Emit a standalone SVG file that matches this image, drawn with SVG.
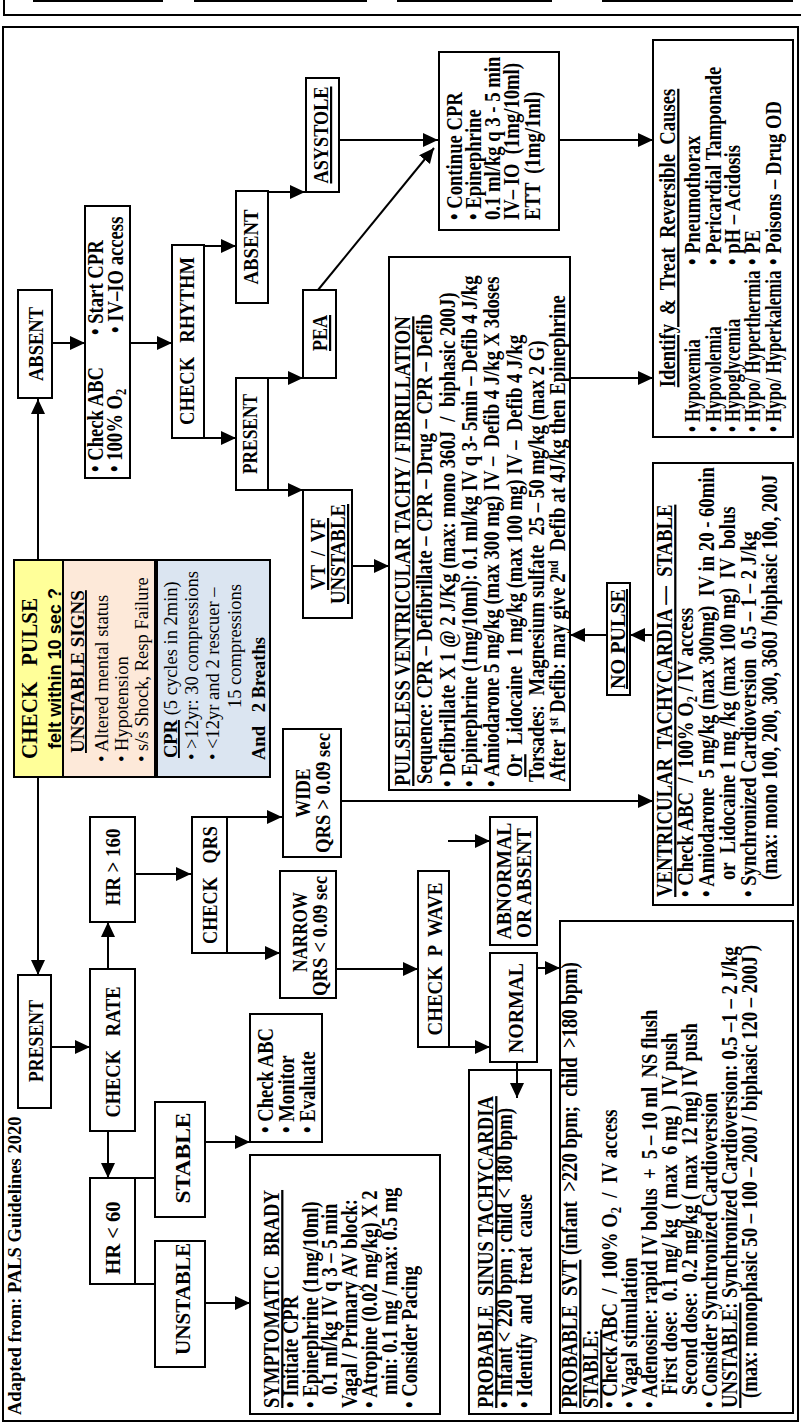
<svg xmlns="http://www.w3.org/2000/svg" width="801" height="1424" viewBox="0 0 801 1424">
<style>
.bx{fill:#fff;stroke:#000;stroke-width:2}
.t{font-family:"Liberation Serif","Times New Roman",serif;font-weight:bold;font-size:22.5px;fill:#000;white-space:pre}
.lb{font-size:22px}
.m{text-anchor:middle}
.r{font-weight:normal;font-size:18.5px}
.u{text-decoration:underline}
.sb{font-size:15px}
.sp{font-size:14px}
.c{fill:none;stroke:#000;stroke-width:2}
.a{marker-end:url(#ah)}
</style>
<defs>
<marker id="ah" markerUnits="userSpaceOnUse" markerWidth="16" markerHeight="15" refX="15" refY="7" orient="auto"><path d="M0,0 L15,7 L0,14 Z" fill="#000"/></marker>
</defs>
<rect width="801" height="1424" fill="#fff"/>
<g id="frame" class="c">
<polyline points="4,0 4,15 801,15"/>
<path d="M33,1 H163 M194,1 H367 M397,1 H552 M602,1 H793"/>
<rect x="3" y="27" width="795" height="1394"/>
</g>
<g id="adapted"><text class="t" style="font-size:18.5px" transform="translate(21 1415) rotate(-90)">Adapted from: PALS Guidelines 2020</text></g>

<g id="n-absent"><rect class="bx" x="18" y="290" width="34" height="108"/><text class="t lb m" transform="translate(43 344) rotate(-90)" textLength="74" lengthAdjust="spacingAndGlyphs">ABSENT</text></g>
<g id="n-present"><rect class="bx" x="18" y="975" width="33" height="133"/><text class="t lb m" transform="translate(43 1041) rotate(-90)" textLength="82" lengthAdjust="spacingAndGlyphs">PRESENT</text></g>

<g id="n-checkpulse"><rect x="14" y="560" width="49" height="217" fill="#FFFF99" stroke="#000" stroke-width="2"/>
<text class="t" style="font-size:23px" transform="translate(37 759) rotate(-90)" textLength="161" lengthAdjust="spacingAndGlyphs">CHECK   PULSE</text>
<text style="font-family:'Liberation Sans',Arial,sans-serif;font-weight:bold;font-size:18px" transform="translate(61 749) rotate(-90)" textLength="161" lengthAdjust="spacingAndGlyphs">felt within 10 sec ?</text></g>

<g id="n-unstable-signs"><rect x="63" y="560" width="92" height="217" fill="#FDE9D9" stroke="#000" stroke-width="2"/>
<text class="t u" style="font-size:19px" transform="translate(84 753) rotate(-90)">UNSTABLE SIGNS</text>
<text class="t r" transform="translate(108 762) rotate(-90)">• Altered mental status</text>
<text class="t r" transform="translate(128 762) rotate(-90)">• Hypotension</text>
<text class="t r" transform="translate(148 762) rotate(-90)">• s/s Shock, Resp Failure</text></g>

<g id="n-cpr"><rect x="157" y="560" width="113" height="217" fill="#DBE5F1" stroke="#000" stroke-width="2"/>
<text class="t r" transform="translate(177 758) rotate(-90)"><tspan class="u" style="font-weight:bold">CPR</tspan> (5 cycles in 2min)</text>
<text class="t r" transform="translate(198 760) rotate(-90)">• &gt;12yr: 30 compressions</text>
<text class="t r" transform="translate(219 760) rotate(-90)">• &lt;12yr and 2 rescuer –</text>
<text class="t r" transform="translate(241 708) rotate(-90)">15 compressions</text>
<text class="t" style="font-size:18.5px" transform="translate(265 760) rotate(-90)">And   2 Breaths</text></g>

<g id="n-checkabc"><rect class="bx" x="85" y="206" width="45" height="272"/>
<text class="t" transform="translate(103 472) rotate(-90) scale(.83 1)">• Check ABC</text>
<text class="t" transform="translate(122 472) rotate(-90) scale(.83 1)">• 100% O<tspan class="sb" dy="4">2</tspan></text>
<text class="t" transform="translate(103 335) rotate(-90) scale(.83 1)">• Start CPR</text>
<text class="t" transform="translate(123 333) rotate(-90) scale(.83 1)">• IV–IO access</text></g>

<g id="n-checkrhythm"><rect class="bx" x="172" y="245" width="32" height="193"/><text class="t lb m" transform="translate(194 341) rotate(-90)" textLength="168" lengthAdjust="spacingAndGlyphs">CHECK   RHYTHM</text></g>
<g id="n-absent2"><rect class="bx" x="236" y="191" width="32" height="112"/><text class="t lb m" transform="translate(258 247) rotate(-90)" textLength="75" lengthAdjust="spacingAndGlyphs">ABSENT</text></g>
<g id="n-present2"><rect class="bx" x="236" y="378" width="32" height="112"/><text class="t lb m" transform="translate(257 434) rotate(-90)" textLength="80" lengthAdjust="spacingAndGlyphs">PRESENT</text></g>
<g id="n-asystole"><rect class="bx" x="306" y="78" width="33" height="114"/><text class="t lb m u" transform="translate(328 135) rotate(-90)" textLength="97" lengthAdjust="spacingAndGlyphs">ASYSTOLE</text></g>
<g id="n-pea"><rect class="bx" x="303" y="290" width="33" height="88"/><text class="t lb m u" transform="translate(327 333) rotate(-90)" textLength="36" lengthAdjust="spacingAndGlyphs">PEA</text></g>
<g id="n-vtvf"><rect class="bx" x="303" y="490" width="49" height="128"/>
<text class="t lb m u" transform="translate(325 554) rotate(-90)" textLength="72" lengthAdjust="spacingAndGlyphs">VT  /  VF</text>
<text class="t lb m u" transform="translate(345 554) rotate(-90)" textLength="100" lengthAdjust="spacingAndGlyphs">UNSTABLE</text></g>

<g id="n-continue"><rect class="bx" x="439" y="52" width="120" height="178"/>
<text class="t" transform="translate(462 220) rotate(-90) scale(.83 1)">• Continue CPR</text>
<text class="t" transform="translate(481 220) rotate(-90) scale(.83 1)">• Epinephrine</text>
<text class="t" transform="translate(500 220) rotate(-90) scale(.83 1)">0.1 ml/kg q 3 - 5 min</text>
<text class="t" transform="translate(519 220) rotate(-90) scale(.83 1)">IV– IO  (1mg/10ml)</text>
<text class="t" transform="translate(540 220) rotate(-90) scale(.83 1)">ETT  (1mg/1ml)</text></g>

<g id="n-pulseless"><rect class="bx" x="389" y="257" width="181" height="533"/>
<text class="t u" transform="translate(410 786) rotate(-90) scale(.83 1)">PULSELESS VENTRICULAR TACHY / FIBRILLATION</text>
<text class="t" transform="translate(432 784) rotate(-90) scale(.83 1)">Sequence: CPR – Defibrillate – CPR – Drug – CPR – Defib</text>
<text class="t" transform="translate(455 787) rotate(-90) scale(.83 1)">• Defibrillate X 1 @ 2 J/Kg (max: mono 360J  /  biphasic 200J)</text>
<text class="t" transform="translate(477 787) rotate(-90) scale(.83 1)">• Epinephrine (1mg/10ml): 0.1 ml/kg IV q 3- 5min – Defib 4 J/kg</text>
<text class="t" transform="translate(499 787) rotate(-90) scale(.83 1)">• Amiodarone 5 mg/kg (max 300 mg) IV –  Defib 4 J/kg X 3doses</text>
<text class="t" transform="translate(522 777) rotate(-90) scale(.83 1)"><tspan class="u">Or</tspan>  Lidocaine  1 mg/kg (max 100 mg) IV –  Defib 4 J/kg</text>
<text class="t" transform="translate(544 782) rotate(-90) scale(.83 1)">Torsades:  Magnesium sulfate  25 – 50 mg/kg (max 2 G)</text>
<text class="t" transform="translate(565 782) rotate(-90) scale(.83 1)">After 1<tspan class="sp" dy="-7">st</tspan><tspan dy="7"> Defib: may give 2</tspan><tspan class="sp" dy="-7">nd</tspan><tspan dy="7">  Defib at 4J/kg then Epinephrine</tspan></text></g>

<g id="n-identify"><rect class="bx" x="653" y="40" width="140" height="397"/>
<text class="t m u" transform="translate(675 238) rotate(-90) scale(.83 1)">Identify  &amp;  Treat  Reversible  Causes</text>
<text class="t" transform="translate(700 432) rotate(-90) scale(.75 1)">• Hypoxemia</text>
<text class="t" transform="translate(721 432) rotate(-90) scale(.75 1)">• Hypovolemia</text>
<text class="t" transform="translate(740 432) rotate(-90) scale(.75 1)">• Hypoglycemia</text>
<text class="t" transform="translate(760 432) rotate(-90) scale(.75 1)">• Hypo/ Hyperthermia</text>
<text class="t" transform="translate(781 432) rotate(-90) scale(.75 1)">• Hypo/ Hyperkalemia</text>
<text class="t" transform="translate(700 265) rotate(-90) scale(.83 1)">• Pneumothorax</text>
<text class="t" transform="translate(721 265) rotate(-90) scale(.83 1)">• Pericardial Tamponade</text>
<text class="t" transform="translate(740 265) rotate(-90) scale(.83 1)">• pH – Acidosis</text>
<text class="t" transform="translate(760 265) rotate(-90) scale(.83 1)">• PE</text>
<text class="t" transform="translate(781 265) rotate(-90) scale(.83 1)">• Poisons – Drug OD</text></g>

<g id="n-nopulse"><rect class="bx" x="607" y="583" width="23" height="112"/><text class="t m u" style="font-size:20px" transform="translate(625 639) rotate(-90)" textLength="100" lengthAdjust="spacingAndGlyphs">NO PULSE</text></g>

<g id="n-vtstable"><rect class="bx" x="653" y="463" width="140" height="442"/>
<text class="t u" transform="translate(672 897) rotate(-90) scale(.83 1)">VENTRICULAR  TACHYCARDIA —  STABLE</text>
<text class="t" transform="translate(693 897) rotate(-90) scale(.83 1)">• Check ABC  /  100% O<tspan class="sb" dy="4">2</tspan><tspan dy="-4"> / IV access</tspan></text>
<text class="t" transform="translate(714 897) rotate(-90) scale(.83 1)">• Amiodarone  5 mg/kg (max 300mg)  IV in 20 - 60min</text>
<text class="t" transform="translate(735 880) rotate(-90) scale(.83 1)">or  Lidocaine 1 mg /kg (max 100 mg)  IV  bolus</text>
<text class="t" transform="translate(756 897) rotate(-90) scale(.83 1)">• Synchronized Cardioversion  0.5 – 1 – 2 J/kg</text>
<text class="t" transform="translate(777 880) rotate(-90) scale(.83 1)">(max: mono 100, 200, 300, 360J /biphasic 100, 200J</text></g>

<g id="n-checkrate"><rect class="bx" x="90" y="969" width="45" height="162"/><text class="t lb m" transform="translate(120 1052) rotate(-90)" textLength="131" lengthAdjust="spacingAndGlyphs">CHECK   RATE</text></g>
<g id="n-hr160"><rect class="bx" x="90" y="817" width="45" height="105"/><text class="t lb m" transform="translate(120 867) rotate(-90)" textLength="77" lengthAdjust="spacingAndGlyphs">HR &gt; 160</text></g>
<g id="n-checkqrs"><rect class="bx" x="192" y="817" width="35" height="136"/><text class="t lb m" transform="translate(217 885) rotate(-90)" textLength="118" lengthAdjust="spacingAndGlyphs">CHECK   QRS</text></g>
<g id="n-wide"><rect class="bx" x="283" y="729" width="58" height="128"/>
<text class="t lb m" transform="translate(310 793) rotate(-90)" textLength="49" lengthAdjust="spacingAndGlyphs">WIDE</text>
<text class="t lb m" transform="translate(330 793) rotate(-90)" textLength="120" lengthAdjust="spacingAndGlyphs">QRS &gt; 0.09 sec</text></g>
<g id="n-narrow"><rect class="bx" x="280" y="871" width="56" height="127"/>
<text class="t lb m" transform="translate(307 932) rotate(-90)" textLength="80" lengthAdjust="spacingAndGlyphs">NARROW</text>
<text class="t lb m" transform="translate(327 936) rotate(-90)" textLength="120" lengthAdjust="spacingAndGlyphs">QRS &lt; 0.09 sec</text></g>
<g id="n-pwave"><rect class="bx" x="418" y="871" width="31" height="176"/><text class="t lb m" transform="translate(442 959) rotate(-90)" textLength="153" lengthAdjust="spacingAndGlyphs">CHECK  P  WAVE</text></g>
<g id="n-abnormal"><rect class="bx" x="490" y="817" width="47" height="128"/>
<text class="t lb m" transform="translate(511 881) rotate(-90)" textLength="117" lengthAdjust="spacingAndGlyphs">ABNORMAL</text>
<text class="t lb m" transform="translate(531 883) rotate(-90)" textLength="110" lengthAdjust="spacingAndGlyphs">OR ABSENT</text></g>
<g id="n-normal"><rect class="bx" x="490" y="953" width="47" height="109"/><text class="t lb m" transform="translate(523 1008) rotate(-90)" textLength="90" lengthAdjust="spacingAndGlyphs">NORMAL</text></g>
<g id="n-hr60"><rect class="bx" x="90" y="1178" width="45" height="106"/><text class="t lb m" transform="translate(120 1238) rotate(-90)" textLength="73" lengthAdjust="spacingAndGlyphs">HR &lt; 60</text></g>
<g id="n-stable"><rect class="bx" x="155" y="1102" width="50" height="115"/><text class="t lb m" transform="translate(190 1158) rotate(-90)" textLength="91" lengthAdjust="spacingAndGlyphs">STABLE</text></g>
<g id="n-unstable"><rect class="bx" x="155" y="1241" width="50" height="126"/><text class="t lb m" transform="translate(190 1299) rotate(-90)" textLength="112" lengthAdjust="spacingAndGlyphs">UNSTABLE</text></g>
<g id="n-monitor"><rect class="bx" x="250" y="1014" width="72" height="128"/>
<text class="t" transform="translate(273 1133) rotate(-90) scale(.83 1)">• Check ABC</text>
<text class="t" transform="translate(294 1133) rotate(-90) scale(.83 1)">• Monitor</text>
<text class="t" transform="translate(315 1133) rotate(-90) scale(.83 1)">• Evaluate</text></g>

<g id="n-brady"><rect class="bx" x="250" y="1155" width="190" height="259"/>
<text class="t u" transform="translate(279 1408) rotate(-90) scale(.83 1)">SYMPTOMATIC  BRADY</text>
<text class="t" transform="translate(298 1408) rotate(-90) scale(.83 1)">• Initiate CPR</text>
<text class="t" transform="translate(318 1408) rotate(-90) scale(.83 1)">• Epinephrine (1mg/10ml)</text>
<text class="t" transform="translate(337 1395) rotate(-90) scale(.83 1)">0.1 ml/kg IV q 3 – 5 min</text>
<text class="t" transform="translate(357 1408) rotate(-90) scale(.83 1)">Vagal / Primary AV block:</text>
<text class="t" transform="translate(377 1408) rotate(-90) scale(.83 1)">• Atropine (0.02 mg/kg) X 2</text>
<text class="t" transform="translate(397 1395) rotate(-90) scale(.83 1)">min: 0.1 mg / max: 0.5 mg</text>
<text class="t" transform="translate(417 1408) rotate(-90) scale(.83 1)">• Consider Pacing</text></g>

<g id="n-sinus"><rect class="bx" x="469" y="1070" width="82" height="344"/>
<text class="t u" transform="translate(493 1408) rotate(-90) scale(.83 1)">PROBABLE  SINUS TACHYCARDIA</text>
<text class="t" transform="translate(512 1408) rotate(-90) scale(.83 1)">• Infant &lt; 220 bpm ; child &lt; 180 bpm)</text>
<text class="t" transform="translate(532 1408) rotate(-90) scale(.83 1)">• Identify  and  treat  cause</text></g>

<g id="n-svt"><rect class="bx" x="560" y="921" width="233" height="492"/>
<text class="t" transform="translate(577 1408) rotate(-90) scale(.83 1)"><tspan class="u">PROBABLE  SVT</tspan> (infant  &gt;220 bpm;  child  &gt;180 bpm)</text>
<text class="t u" transform="translate(598 1408) rotate(-90) scale(.83 1)">STABLE:</text>
<text class="t" transform="translate(617 1408) rotate(-90) scale(.83 1)">• Check ABC  /  100% O<tspan class="sb" dy="4">2</tspan><tspan dy="-4">  /  IV access</tspan></text>
<text class="t" transform="translate(637 1408) rotate(-90) scale(.83 1)">• Vagal stimulation</text>
<text class="t" transform="translate(657 1408) rotate(-90) scale(.83 1)">• Adenosine: rapid IV bolus  +  5 – 10 ml  NS flush</text>
<text class="t" transform="translate(677 1395) rotate(-90) scale(.83 1)">First dose:  0.1 mg/ kg  ( max  6 mg )  IV push</text>
<text class="t" transform="translate(697 1395) rotate(-90) scale(.83 1)">Second dose:  0.2 mg/kg ( max  12 mg) IV push</text>
<text class="t" transform="translate(717 1408) rotate(-90) scale(.83 1)">• Consider Synchronized Cardioversion</text>
<text class="t" transform="translate(737 1408) rotate(-90) scale(.83 1)"><tspan class="u">UNSTABLE:</tspan> Synchronized Cardioversion: 0.5 –1 – 2 J/kg</text>
<text class="t" transform="translate(757 1398) rotate(-90) scale(.83 1)">(max: monophasic 50 – 100 – 200J / biphasic 120 – 200J )</text></g>

<g id="connectors" class="c">
<path class="a" d="M38,560 V399"/>
<path class="a" d="M38,777 V975"/>
<path class="a" d="M52,343 H85"/>
<path class="a" d="M130,343 H172"/>
<path class="a" d="M204,246 H236"/>
<path class="a" d="M204,438 H236"/>
<path class="a" d="M268,192 H305"/>
<path class="a" d="M339,140 H438"/>
<path class="a" d="M318,290 L434,148"/>
<path class="a" d="M268,378 H303"/>
<path class="a" d="M268,490 H303"/>
<path class="a" d="M352,566 H389"/>
<path class="a" d="M559,140 H653"/>
<path class="a" d="M570,378 H653"/>
<path class="a" d="M653,635 H630"/>
<path class="a" d="M607,635 H570"/>
<path class="a" d="M51,1047 H90"/>
<path class="a" d="M108,969 V922"/>
<path class="a" d="M108,1131 V1178"/>
<path class="a" d="M135,874 H191"/>
<path class="a" d="M227,817 H282"/>
<path class="a" d="M227,953 H280"/>
<path class="a" d="M336,969 H418"/>
<path class="a" d="M449,1047 H490"/>
<path class="a" d="M448,841 H490"/>
<path class="a" d="M341,801 H653"/>
<path class="a" d="M537,968 H560"/>
<path class="a" d="M517,1062 V1098"/>
<path d="M135,1178 H155 M135,1284 H155"/>
<path class="a" d="M205,1142 H250"/>
<path class="a" d="M205,1303 H250"/>
</g>
</svg>
